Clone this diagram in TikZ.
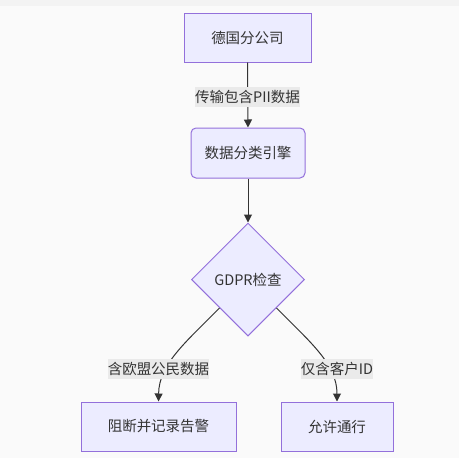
\documentclass[tikz,border=0pt]{standalone}
\usepackage{fontspec}
\setmainfont{Noto Sans CJK SC}
\usetikzlibrary{shapes.geometric,arrows.meta}
\definecolor{bgc}{HTML}{FAFAFA}
\definecolor{topc}{HTML}{F3F3F3}
\definecolor{nfill}{HTML}{ECECFF}
\definecolor{nstroke}{HTML}{9370DB}
\definecolor{txt}{HTML}{333333}
\definecolor{lblbg}{HTML}{EAEAEA}
\tikzset{
  box/.style={draw=nstroke, fill=nfill, line width=1pt, inner sep=0pt, text=txt,
    font=\fontsize{14.5}{17}\selectfont, align=center},
  rbox/.style={box, rounded corners=5pt},
  dia/.style={box, diamond, aspect=1, minimum width=113pt, minimum height=113pt},
  elabel/.style={fill=lblbg, inner xsep=0pt, inner ysep=0pt, minimum height=20pt,
    text=txt, font=\fontsize{14.5}{17}\selectfont},
  edge/.style={draw=txt, line width=1pt, -{Triangle[length=8pt,width=8pt]}},
}
\begin{document}
\begin{tikzpicture}[x=1pt,y=-1pt]
\useasboundingbox (0,0) rectangle (459,458);
\fill[bgc] (0,0) rectangle (459,458);
\fill[topc] (0,0) rectangle (459,5.5);
\node[box, minimum width=127pt, minimum height=49pt] (n1) at (247.5,37.5) {德国分公司};
\node[rbox, minimum width=114pt, minimum height=50pt] (n2) at (248,153) {数据分类引擎};
\node[dia] (d) at (248,279.5) {GDPR检查};
\node[box, minimum width=155pt, minimum height=49pt] (n3) at (158.5,426.5) {阻断并记录告警};
\node[box, minimum width=112pt, minimum height=49pt] (n4) at (337,426.5) {允许通行};
\draw[edge] (n1.south) -- (n2.north);
\draw[edge] (n2.south) -- (d.north);
\draw[edge] (d.south west) .. controls (186,342) and (159,364) .. (n3.north);
\draw[edge] (d.south east) .. controls (310,342) and (337,364) .. (n4.north);
\node[elabel] (l1) at (247.5,97) {传输包含PII数据};
\node[elabel] (l2) at (158.5,369) {含欧盟公民数据};
\node[elabel] (l3) at (337,369) {仅含客户ID};
\end{tikzpicture}
\end{document}
